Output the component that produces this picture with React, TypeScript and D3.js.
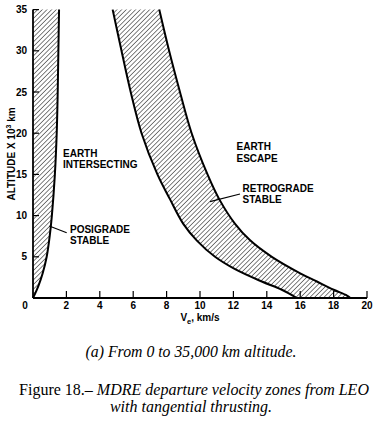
import React from "react";
import * as d3 from "d3";

// Posigrade stable boundary (velocity km/s, altitude 10^3 km), bottom to top
const posiV = [0.0, 0.12, 0.33, 0.58, 0.82, 1.0, 1.13, 1.31, 1.42, 1.48, 1.52, 1.56];
const posiAlt = [0, 0.5, 1.5, 3, 5, 7.5, 10, 15, 20, 25, 30, 35];

// Retrograde stable band: inner (left) boundary, top to bottom
const innerAlt = [35, 30, 25, 20, 15, 12, 9, 7, 5, 3.5, 2, 1, 0];
const innerV = [4.77, 5.3, 5.85, 6.5, 7.45, 8.2, 9.0, 9.8, 10.9, 12.1, 13.7, 14.9, 15.8];

// Retrograde stable band: outer (right) boundary, top to bottom
const outerAlt = [35, 30, 25, 20, 15, 12, 9, 7, 5, 3, 2, 1, 0.3, 0];
const outerV = [7.56, 8.15, 8.8, 9.5, 10.45, 11.15, 12.1, 13.0, 14.3, 16.0, 17.0, 18.0, 18.8, 19.0];

const xTicks = [2, 4, 6, 8, 10, 12, 14, 16, 18, 20];
const yTicks = [5, 10, 15, 20, 25, 30, 35];

const SANS = "'Liberation Sans', Arial, Helvetica, sans-serif";
const SERIF = "'Liberation Serif', 'Times New Roman', serif";

export default function App() {
  const x = d3.scaleLinear().domain([0, 20]).range([33, 367]);
  const y = d3.scaleLinear().domain([0, 35]).range([298, 9.6]);

  const line = d3
    .line<[number, number]>()
    .x((d) => x(d[0]))
    .y((d) => y(d[1]))
    .curve(d3.curveCatmullRom.alpha(0.5));

  const posiPts: [number, number][] = posiV.map((v, i) => [v, posiAlt[i]]);
  const innerPts: [number, number][] = innerV.map((v, i) => [v, innerAlt[i]]);
  const outerPts: [number, number][] = outerV.map((v, i) => [v, outerAlt[i]]);

  const posiPath = line(posiPts) || "";
  const posiFill =
    `M${x(0)},${y(35)}L${x(0)},${y(0)}` + "L" + posiPath.substring(1) + "Z";

  const innerPath = line(innerPts) || "";
  const outerPath = line(outerPts) || "";
  const outerRev = line([...outerPts].reverse()) || "";
  const bandFill = innerPath + "L" + outerRev.substring(1) + "Z";

  const bold = { fontFamily: SANS, fontWeight: 700, fontSize: 10 } as const;

  return (
    <svg
      width={382}
      height={433}
      style={{ position: "absolute", left: 0, top: 0, background: "#fff" }}
    >
      <defs>
        <pattern
          id="hatch"
          patternUnits="userSpaceOnUse"
          width={3.3}
          height={3.3}
          patternTransform="rotate(45)"
        >
          <line x1={0} y1={-1} x2={0} y2={5} stroke="#000" strokeWidth={1} />
        </pattern>
      </defs>
      <rect width={382} height={433} fill="#fff" />

      {/* hatched regions */}
      <path d={posiFill} fill="url(#hatch)" />
      <path d={bandFill} fill="url(#hatch)" />

      {/* boundary curves */}
      <path d={posiPath} fill="none" stroke="#000" strokeWidth={2} />
      <path d={innerPath} fill="none" stroke="#000" strokeWidth={2} />
      <path d={outerPath} fill="none" stroke="#000" strokeWidth={2} />

      {/* axes */}
      <line x1={x(0)} y1={y(0)} x2={x(20)} y2={y(0)} stroke="#000" strokeWidth={1.8} />
      <line x1={x(0)} y1={y(0)} x2={x(0)} y2={y(35)} stroke="#000" strokeWidth={1.8} />

      {xTicks.map((t) => (
        <g key={"x" + t}>
          <line x1={x(t)} y1={y(0)} x2={x(t)} y2={y(0) - 7} stroke="#000" strokeWidth={1.2} />
          <text x={x(t)} y={309} textAnchor="middle" {...bold}>
            {t}
          </text>
        </g>
      ))}
      <text x={25} y={309} textAnchor="middle" {...bold}>
        0
      </text>

      {yTicks.map((t) => (
        <g key={"y" + t}>
          <line x1={x(0)} y1={y(t)} x2={x(0) + 6} y2={y(t)} stroke="#000" strokeWidth={1.2} />
          <text x={27} y={y(t) + 3.6} textAnchor="end" {...bold}>
            {t}
          </text>
        </g>
      ))}

      {/* axis titles */}
      <text
        transform="translate(14.5,154) rotate(-90)"
        textAnchor="middle"
        {...bold}
      >
        ALTITUDE X 10
        <tspan fontSize={7} dy={-4}>
          3
        </tspan>
        <tspan dy={4}> km</tspan>
      </text>
      <text x={200} y={321} textAnchor="middle" {...bold}>
        V
        <tspan fontSize={7.5} dy={2.5}>
          e
        </tspan>
        <tspan dy={-2.5}>, km/s</tspan>
      </text>

      {/* region labels */}
      <text x={63} y={156.5} {...bold}>EARTH</text>
      <text x={63} y={168} {...bold}>INTERSECTING</text>
      <text x={236.5} y={150} {...bold}>EARTH</text>
      <text x={236.5} y={161.5} {...bold}>ESCAPE</text>
      <text x={242.5} y={192} {...bold}>RETROGRADE</text>
      <text x={242.5} y={203} {...bold}>STABLE</text>
      <text x={70} y={232.5} {...bold}>POSIGRADE</text>
      <text x={70} y={243.5} {...bold}>STABLE</text>

      {/* leader lines */}
      <line x1={49.3} y1={226} x2={66.7} y2={232.7} stroke="#000" strokeWidth={1.2} />
      <line x1={210} y1={201.7} x2={240} y2={194} stroke="#000" strokeWidth={1.2} />

      {/* captions */}
      <text
        x={191}
        y={357}
        textAnchor="middle"
        fontFamily={SERIF}
        fontStyle="italic"
        fontSize={15.8}
      >
        (a) From 0 to 35,000 km altitude.
      </text>
      <text x={194} y={394.5} textAnchor="middle" fontFamily={SERIF} fontSize={16}>
        Figure 18.–
        <tspan fontStyle="italic"> MDRE departure velocity zones from LEO</tspan>
      </text>
      <text
        x={191}
        y={412}
        textAnchor="middle"
        fontFamily={SERIF}
        fontStyle="italic"
        fontSize={16}
      >
        with tangential thrusting.
      </text>
    </svg>
  );
}
